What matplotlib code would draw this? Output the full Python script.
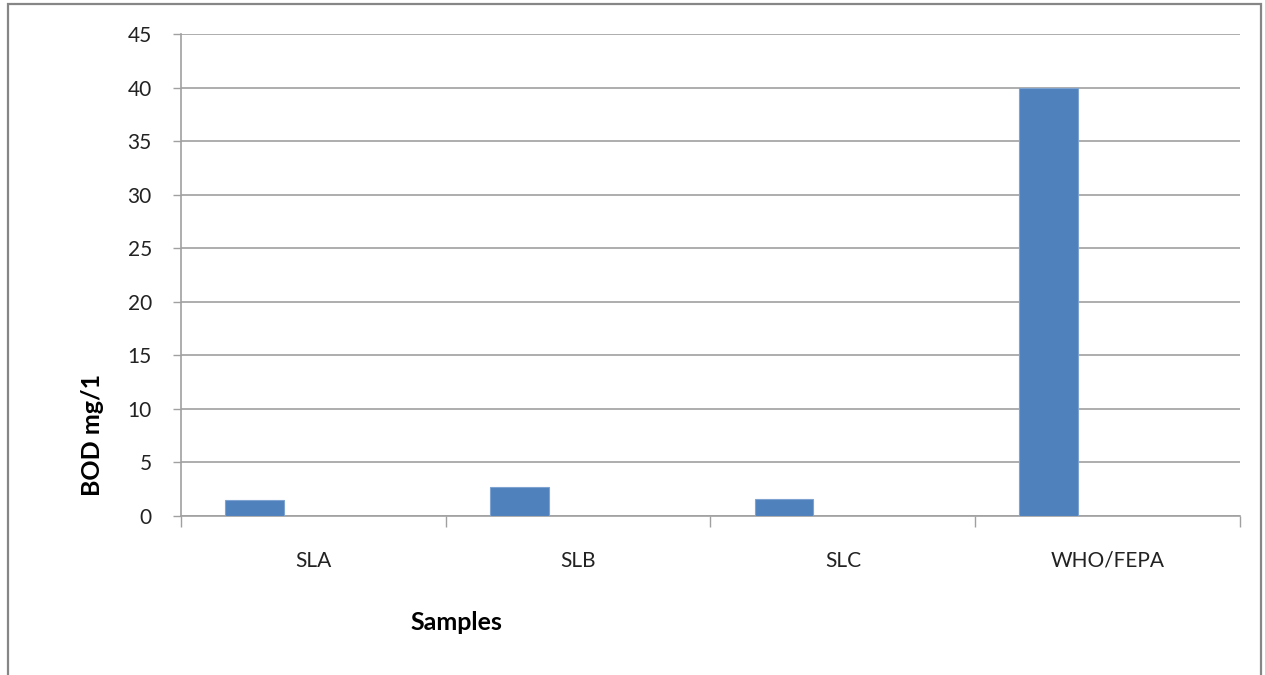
import matplotlib.pyplot as plt
from matplotlib.patches import Rectangle

samples = ["SLA", "SLB", "SLC", "WHO/FEPA"]
bod = [1.5, 2.7, 1.6, 40]
y_ticks = [0, 5, 10, 15, 20, 25, 30, 35, 40, 45]

plt.rcParams['font.family'] = ['Lato', 'DejaVu Sans']

fig = plt.figure(figsize=(12.65, 6.75), dpi=100)
ax = fig.add_axes([0.1431, 0.2356, 0.8371, 0.714])

# outer chart frame (bottom edge falls outside the image)
fig.patches.append(Rectangle((0.0065, -0.05), 0.9905, 1.044, transform=fig.transFigure,
                             fill=False, edgecolor='#868686', linewidth=1.6))

# bar sits in the left part of each category slot
bar_w = 0.222
xs = [i - 0.222 for i in range(len(samples))]
ax.bar(xs, bod, width=bar_w, color='#4F81BD', edgecolor='#7FA3D1', linewidth=0.8, zorder=3)

ax.set_xlim(-0.5, len(samples) - 0.5)
ax.set_ylim(0, 45)
ax.set_yticks(y_ticks)
ax.set_yticklabels([str(t) for t in y_ticks], fontsize=15, color='#222222')
ax.yaxis.grid(True, color='#A0A0A0', linewidth=1.2, zorder=0)
ax.set_axisbelow(True)

# category boundaries as major ticks, names centred in between
ax.set_xticks([i - 0.5 for i in range(len(samples) + 1)])
ax.set_xticklabels([])
ax.set_xticks(range(len(samples)), minor=True)
ax.set_xticklabels(samples, minor=True, fontsize=15, color='#222222')
ax.tick_params(axis='x', which='major', length=8, color='#A0A0A0', width=1)
ax.tick_params(axis='x', which='minor', length=0, pad=25)
ax.tick_params(axis='y', length=6, color='#A0A0A0', width=1, pad=15)

for side in ['top', 'right']:
    ax.spines[side].set_visible(False)
for side in ['left', 'bottom']:
    ax.spines[side].set_color('#A0A0A0')
    ax.spines[side].set_linewidth(1.2)

fig.text(0.0735, 1 - 435 / 675, "BOD mg/1", fontsize=18, fontweight='bold',
         rotation=90, ha='center', va='center')
fig.text(0.3605, 1 - 622 / 675, "Samples", fontsize=18, fontweight='bold',
         ha='center', va='center')

fig.savefig("out.png", dpi=100, facecolor='white')
